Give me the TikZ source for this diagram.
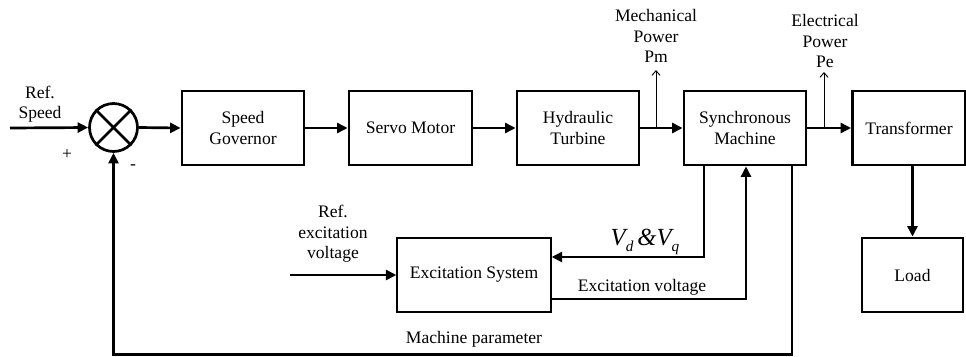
\documentclass[tikz,border=0pt]{standalone}
\usepackage{fontspec}
\setmainfont{Liberation Serif}
\usetikzlibrary{arrows.meta,positioning}
\tikzset{
  blk/.style={draw=black,line width=2.3pt,minimum height=2.22cm,align=center,inner sep=1pt},
  thinblk/.style={blk,line width=1pt},
  sumnode/.style={circle,draw=black,line width=2.3pt,minimum size=1.44cm,inner sep=0pt},
  sig/.style={-{Triangle[length=9pt,width=8.5pt]},line width=2.3pt},
  tap/.style={-{Straight Barb[length=4pt,width=7pt]},line width=0.8pt},
  lbl/.style={align=center,inner sep=0pt},
}

\begin{document}
\begin{tikzpicture}[x=0.03cm,y=-0.03cm,font=\fontsize{15}{17.5}\selectfont]
  \useasboundingbox (0,0) rectangle (966,356);
  % forward path
  \node[sumnode] (sum) at (113.5,127.5) {};
  \draw[line width=2.3pt] (sum.north west) -- (sum.south east) (sum.north east) -- (sum.south west);
  \node[blk,minimum width=3.66cm] (gov) at (243,128) {Speed\\Governor};
  \node[blk,minimum width=3.69cm] (servo) at (410.5,128) {Servo Motor};
  \node[blk,minimum width=3.66cm] (turb) at (578,128) {Hydraulic\\Turbine};
  \node[blk,minimum width=3.66cm] (sync) at (745,128) {Synchronous\\Machine};
  \node[blk,minimum width=3.39cm] (trans) at (909,128) {Transformer};
  \node[blk,minimum width=3.03cm] (load) at (912.5,275) {Load};
  \node[thinblk,minimum width=4.62cm] (exc) at (474,275) {Excitation System};
  % text labels
  \node[lbl] (refspd) at (40,104) {Ref.\\Speed};
  \node[lbl] (plus) at (67,155) {+};
  \node[lbl] (minus) at (133,167) {-};
  \node[lbl] (mech) at (656,36) {Mechanical\\Power\\Pm};
  \node[lbl] (elec) at (825,41) {Electrical\\Power\\Pe};
  \node[lbl] (refexc) at (333,234) {Ref.\\excitation\\voltage};
  \node[lbl] (vdvq) at (645,242) {\fontsize{21}{21}\selectfont\itshape V\raisebox{-0.6ex}{\fontsize{13}{13}\selectfont d}\,\&V\raisebox{-0.6ex}{\fontsize{13}{13}\selectfont q}};
  \node[lbl] (evlbl) at (642,287) {Excitation voltage};
  \node[lbl] (mplbl) at (474,339) {Machine parameter};
  % helper points
  \coordinate (spdin) at (10,128);
  \coordinate (excin) at (290,275);
  \coordinate (pmtap) at (656,128);
  \coordinate (pmtip) at (656,70);
  \coordinate (petap) at (824,128);
  \coordinate (petip) at (824,72);
  \coordinate (vd) at (704,257);
  \coordinate (ev) at (746,299);
  \coordinate (fb) at (792,354.5);
  % connectors
  \draw[sig] (spdin) -- (sum.west);
  \draw[sig] (sum.east) -- (gov.west);
  \draw[sig] (gov.east) -- (servo.west);
  \draw[sig] (servo.east) -- (turb.west);
  \draw[sig] (turb.east) -- (sync.west);
  \draw[sig] (sync.east) -- (trans.west);
  \draw[sig] (trans.south -| load) -- (load.north);
  \draw[tap] (pmtap) -- (pmtip);
  \draw[tap] (petap) -- (petip);
  \draw[sig] (excin) -- (exc.west);
  \draw[sig] (sync.south -| vd) |- (exc.east |- vd);
  \draw[sig] (exc.east |- ev) -| (sync.south -| ev);
  \draw[sig] (sync.south -| fb) |- (sum |- fb) -- (sum.south);
\end{tikzpicture}
\end{document}
